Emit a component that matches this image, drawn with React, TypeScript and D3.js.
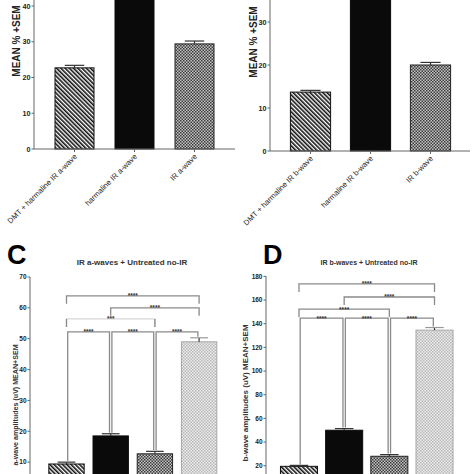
import React from "react";
import * as d3 from "d3";

// ---------- DATA ----------
const catsA = ["DMT + harmaline IR a-wave", "harmaline IR a-wave", "IR a-wave"];
const meanA = [22.7, 55, 29.4];
const semA = [0.7, 1.5, 0.8];
const ticksA = [0, 10, 20, 30, 40];

const catsB = ["DMT + harmaline IR b-wave", "harmaline IR b-wave", "IR b-wave"];
const meanB = [13.7, 45, 20.0];
const semB = [0.4, 1.0, 0.6];
const ticksB = [0, 10, 20, 30];

const catsC = ["DMT + harmaline IR", "harmaline IR", "IR", "Untreated no-IR"];
const meanC = [9.4, 18.5, 12.7, 49.0];
const semC = [0.6, 0.7, 0.8, 1.3];
const ticksC = [10, 20, 30, 40, 50, 60, 70];

const catsD = ["DMT + harmaline IR", "harmaline IR", "IR", "Untreated no-IR"];
const meanD = [19.5, 50.0, 28.0, 134.6];
const semD = [0.8, 1.4, 1.4, 2.2];
const ticksD = [20, 40, 60, 80, 100, 120, 140, 160, 180];

// significance comparisons: [from, to, level, label, kind]
const sigC: [number, number, number, string, string][] = [
  [0, 3, 63.9, "****", "top"],
  [1, 3, 60.0, "****", "top"],
  [0, 2, 56.4, "***", "faint"],
  [0, 1, 52.2, "****", "bar"],
  [1, 2, 52.2, "****", "bar"],
  [2, 3, 52.2, "****", "bar"],
];
const sigD: [number, number, number, string, string][] = [
  [0, 3, 173.6, "****", "top"],
  [1, 3, 162.6, "****", "top"],
  [0, 2, 152.4, "****", "top"],
  [0, 1, 144.8, "****", "bar"],
  [1, 2, 144.8, "****", "bar"],
  [2, 3, 144.8, "****", "bar"],
];

const FONT = "Arial, 'Liberation Sans', Helvetica, sans-serif";
const fills = ["url(#hatch)", "#0a0a0a", "url(#checkDark)", "url(#checkLight)"];
const strokes = ["#111", "#0a0a0a", "#222", "#a8a8a8"];

type PanelProps = {
  cats: string[];
  mean: number[];
  sem: number[];
  ticks: number[];
  xRange: [number, number];
  pInner: number;
  yDomain: [number, number];
  yRange: [number, number];
  axisX: number;
  axisEnd: number;
  axisTop: number;
  tickFont: number;
  showXLabels: boolean;
  sig?: [number, number, number, string, string][];
  capFrac: number;
};

function Panel(p: PanelProps) {
  const x = d3
    .scaleBand<string>()
    .domain(p.cats)
    .range(p.xRange)
    .paddingInner(p.pInner)
    .paddingOuter(p.pInner / 2);
  const y = d3.scaleLinear().domain(p.yDomain).range(p.yRange);
  const bw = x.bandwidth();
  const base = y(0);
  const cx = (i: number) => (x(p.cats[i]) as number) + bw / 2;
  const errTop = (i: number) => y(p.mean[i] + p.sem[i]);

  return (
    <g>
      {p.cats.map((c, i) => {
        const x0 = x(c) as number;
        const top = y(p.mean[i]);
        return (
          <g key={c}>
            <rect
              x={x0}
              y={top}
              width={bw}
              height={base - top}
              fill={fills[i]}
              stroke={strokes[i]}
              strokeWidth={1}
            />
            <line x1={cx(i)} x2={cx(i)} y1={top} y2={errTop(i)} stroke="#333" strokeWidth={1.2} />
            <line
              x1={cx(i) - (bw * p.capFrac) / 2}
              x2={cx(i) + (bw * p.capFrac) / 2}
              y1={errTop(i)}
              y2={errTop(i)}
              stroke={i === 3 ? "#999" : "#333"}
              strokeWidth={1.2}
            />
          </g>
        );
      })}
      {/* y axis */}
      <line x1={p.axisX} x2={p.axisX} y1={base} y2={p.axisTop} stroke="#666" strokeWidth={1} />
      {p.ticks.map((t) => (
        <g key={t}>
          <line x1={p.axisX - 2.5} x2={p.axisX} y1={y(t)} y2={y(t)} stroke="#666" />
          <text
            x={p.axisX - 3.5}
            y={y(t)}
            dy="0.35em"
            textAnchor="end"
            fontSize={p.tickFont}
            fontWeight="bold"
            fill="#222"
            fontFamily={FONT}
          >
            {t}
          </text>
        </g>
      ))}
      {/* x axis */}
      <line x1={p.axisX} x2={p.axisEnd} y1={base} y2={base} stroke="#666" strokeWidth={1.2} />
      {p.showXLabels &&
        p.cats.map((c, i) => (
          <g key={c}>
            <line x1={cx(i)} x2={cx(i)} y1={base} y2={base + 3} stroke="#666" />
            <text
              transform={`translate(${cx(i) + 3},${base + 8}) rotate(-45)`}
              textAnchor="end"
              fontSize={7.6}
              fill="#1a1a1a"
              fontFamily={FONT}
            >
              {c}
            </text>
          </g>
        ))}
      {p.sig &&
        p.sig.map(([a, b, lvl, lab, kind], k) => {
          const ly = y(lvl);
          const xa = cx(a) + (kind === "bar" ? 1.2 : 0);
          const xb = cx(b) - (kind === "bar" ? 1.2 : 0);
          const ya = kind === "bar" ? errTop(a) - 1 : ly + 8;
          const yb = kind === "bar" ? errTop(b) - 1 : ly + 8;
          const col = kind === "faint" ? "#d8d8d8" : "#8a8a8a";
          return (
            <g key={k}>
              <path
                d={`M${xa},${ya}V${ly}H${xb}V${yb}`}
                fill="none"
                stroke={col}
                strokeWidth={1.3}
              />
              {kind === "faint" && (
                <path
                  d={`M${xa},${ly}V${ly + 8}M${xb},${ly}V${ly + 8}`}
                  stroke="#8a8a8a"
                  strokeWidth={1.3}
                />
              )}
              <text
                x={(xa + xb) / 2}
                y={ly + 2.5}
                textAnchor="middle"
                fontSize={6.5}
                fontWeight="bold"
                fill="#333"
                fontFamily={FONT}
              >
                {lab}
              </text>
            </g>
          );
        })}
    </g>
  );
}

export default function App() {
  return (
    <svg
      width={474}
      height={474}
      style={{ position: "absolute", left: 0, top: 0, background: "#fff" }}
    >
      <defs>
        <pattern id="hatch" width={3} height={3} patternUnits="userSpaceOnUse" patternTransform="rotate(-45)">
          <rect width={3} height={3} fill="#fff" />
          <rect width={1.6} height={3} fill="#111" />
        </pattern>
        <pattern id="checkDark" width={3} height={3} patternUnits="userSpaceOnUse">
          <rect width={3} height={3} fill="#c4c4c4" />
          <rect width={1.5} height={1.5} fill="#3a3a3a" />
          <rect x={1.5} y={1.5} width={1.5} height={1.5} fill="#3a3a3a" />
        </pattern>
        <pattern id="checkLight" width={3} height={3} patternUnits="userSpaceOnUse">
          <rect width={3} height={3} fill="#ececec" />
          <rect width={1.5} height={1.5} fill="#b8b8b8" />
          <rect x={1.5} y={1.5} width={1.5} height={1.5} fill="#b8b8b8" />
        </pattern>
      </defs>

      {/* Panel A */}
      <Panel
        cats={catsA}
        mean={meanA}
        sem={semA}
        ticks={ticksA}
        xRange={[44.5, 224.5]}
        pInner={0.35}
        yDomain={[0, 40]}
        yRange={[149, 6]}
        axisX={34}
        axisEnd={235}
        axisTop={-5}
        tickFont={7.2}
        showXLabels={true}
        capFrac={0.5}
      />
      <text
        transform="translate(20,41) rotate(-90)"
        textAnchor="middle"
        fontSize={10}
        fontWeight="bold"
        fill="#222"
        fontFamily={FONT}
      >
        MEAN % +SEM
      </text>

      {/* Panel B */}
      <Panel
        cats={catsB}
        mean={meanB}
        sem={semB}
        ticks={ticksB}
        xRange={[280.5, 460.5]}
        pInner={0.33}
        yDomain={[0, 30]}
        yRange={[151, 22]}
        axisX={270}
        axisEnd={470}
        axisTop={-5}
        tickFont={7.2}
        showXLabels={true}
        capFrac={0.5}
      />
      <text
        transform="translate(257,42) rotate(-90)"
        textAnchor="middle"
        fontSize={10}
        fontWeight="bold"
        fill="#222"
        fontFamily={FONT}
      >
        MEAN % +SEM
      </text>

      {/* Panel C */}
      <text x={7} y={264} fontSize={27} fontWeight="bold" fill="#000" fontFamily={FONT}>
        C
      </text>
      <text x={132} y={265} textAnchor="middle" fontSize={8} fontWeight="bold" fill="#333" fontFamily={FONT}>
        IR a-waves + Untreated no-IR
      </text>
      <Panel
        cats={catsC}
        mean={meanC}
        sem={semC}
        ticks={ticksC}
        xRange={[44.4, 221.2]}
        pInner={0.2}
        yDomain={[0, 70]}
        yRange={[493, 277]}
        axisX={30}
        axisEnd={230}
        axisTop={277}
        tickFont={6.5}
        showXLabels={false}
        sig={sigC}
        capFrac={0.5}
      />
      <text
        transform="translate(17.5,405) rotate(-90)"
        textAnchor="middle"
        fontSize={7.1}
        fontWeight="bold"
        fill="#333"
        fontFamily={FONT}
      >
        a-wave amplitudes (uV) MEAN+SEM
      </text>

      {/* Panel D */}
      <text x={263} y={264} fontSize={27} fontWeight="bold" fill="#000" fontFamily={FONT}>
        D
      </text>
      <text x={369} y={265} textAnchor="middle" fontSize={7} fontWeight="bold" fill="#333" fontFamily={FONT}>
        IR b-waves + Untreated no-IR
      </text>
      <Panel
        cats={catsD}
        mean={meanD}
        sem={semD}
        ticks={ticksD}
        xRange={[276.4, 457.1]}
        pInner={0.18}
        yDomain={[0, 180]}
        yRange={[489.4, 276.4]}
        axisX={266}
        axisEnd={465}
        axisTop={276}
        tickFont={6.5}
        showXLabels={false}
        sig={sigD}
        capFrac={0.5}
      />
      <text
        transform="translate(248,393) rotate(-90)"
        textAnchor="middle"
        fontSize={8}
        fontWeight="bold"
        fill="#333"
        fontFamily={FONT}
      >
        b-wave amplitudes (uV) MEAN+SEM
      </text>
    </svg>
  );
}
